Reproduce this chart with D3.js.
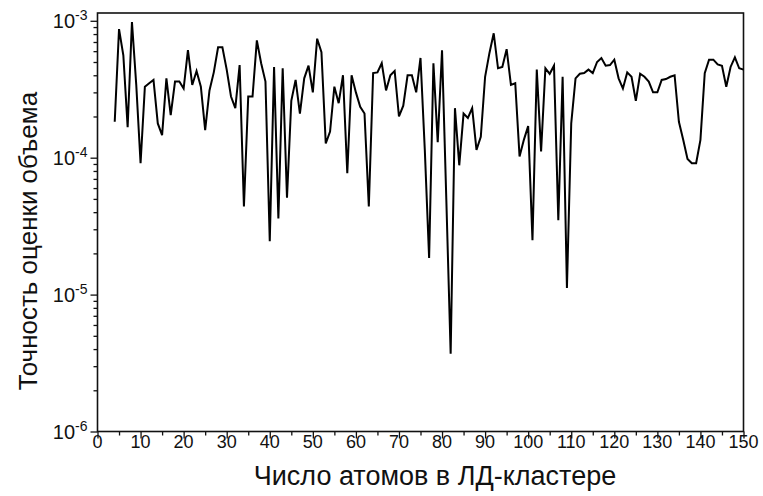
<!DOCTYPE html>
<html>
<head>
<meta charset="utf-8">
<script src="https://cdn.jsdelivr.net/npm/d3@7"></script>
<style>
  body { margin: 0; background: #fff; }
  text { font-family: "Liberation Sans", Arial, sans-serif; fill: #111; }
</style>
</head>
<body>
<div id="chart"></div>
<script>
// cluster size (number of atoms), starts at 4
var atomCounts = d3.range(4, 151);

// accuracy of volume estimate for each cluster size
var accuracy = [
  1.83e-4, 8.7e-4, 5.6e-4, 1.67e-4, 9.8e-4, 3.4e-4, 9.1e-5, 3.3e-4, 3.5e-4, 3.7e-4,   // 4-13
  1.78e-4, 1.46e-4, 3.8e-4, 2.05e-4, 3.6e-4, 3.6e-4, 3.2e-4, 6.1e-4, 3.4e-4, 4.3e-4,  // 14-23
  3.3e-4, 1.59e-4, 3.1e-4, 4.2e-4, 6.4e-4, 6.4e-4, 4.4e-4, 2.8e-4, 2.3e-4, 4.75e-4,   // 24-33
  4.4e-5, 2.8e-4, 2.8e-4, 7.2e-4, 4.9e-4, 3.6e-4, 2.45e-5, 4.6e-4, 3.6e-5, 4.5e-4,    // 34-43
  5.1e-5, 2.6e-4, 3.7e-4, 2.1e-4, 3.8e-4, 4.7e-4, 3.0e-4, 7.4e-4, 5.9e-4, 1.27e-4,    // 44-53
  1.55e-4, 3.3e-4, 2.5e-4, 4.0e-4, 7.7e-5, 4.0e-4, 3.0e-4, 2.35e-4, 2.1e-4, 4.4e-5,   // 54-63
  4.15e-4, 4.2e-4, 4.9e-4, 3.1e-4, 4.0e-4, 4.3e-4, 2.0e-4, 2.4e-4, 4.0e-4, 4.0e-4,    // 64-73
  3.0e-4, 5.35e-4, 1.14e-4, 1.85e-5, 4.9e-4, 1.3e-4, 6.1e-4, 4.9e-5, 3.7e-6, 2.3e-4,  // 74-83
  8.8e-5, 2.1e-4, 1.95e-4, 2.3e-4, 1.14e-4, 1.42e-4, 3.9e-4, 5.8e-4, 8.1e-4, 4.5e-4,  // 84-93
  4.6e-4, 6.2e-4, 3.4e-4, 3.5e-4, 1.02e-4, 1.35e-4, 1.7e-4, 2.5e-5, 4.4e-4, 1.11e-4,  // 94-103
  4.5e-4, 4.1e-4, 4.7e-4, 3.5e-5, 3.9e-4, 1.12e-5, 1.78e-4, 3.8e-4, 4.1e-4, 4.15e-4,  // 104-113
  4.4e-4, 4.15e-4, 5.0e-4, 5.35e-4, 4.7e-4, 4.75e-4, 5.2e-4, 3.8e-4, 3.2e-4, 4.2e-4,  // 114-123
  3.9e-4, 2.6e-4, 4.1e-4, 3.9e-4, 3.6e-4, 3.0e-4, 3.0e-4, 3.7e-4, 3.75e-4, 3.9e-4,    // 124-133
  4.0e-4, 1.83e-4, 1.35e-4, 9.8e-5, 9.1e-5, 9.1e-5, 1.35e-4, 4.15e-4, 5.2e-4, 5.2e-4, // 134-143
  4.8e-4, 4.7e-4, 3.3e-4, 4.6e-4, 5.4e-4, 4.5e-4, 4.4e-4                              // 144-150
];

var xTicks = d3.range(0, 151, 10);
var xMinorTicks = d3.range(5, 150, 10);
var yExponents = [-6, -5, -4, -3];

var xTitle = "Число атомов в ЛД-кластере";
var yTitle = "Точность оценки объема";

var width = 763, height = 496;
var plot = { left: 97.5, right: 743.5, top: 13, bottom: 431.5 };

var svg = d3.select("#chart").append("svg")
    .attr("width", width)
    .attr("height", height)
    .style("background", "#fff");

var x = d3.scaleLinear().domain([0, 150]).range([plot.left, plot.right]);
var y = d3.scaleLog().domain([1e-6, 1.14e-3]).range([plot.bottom, plot.top]);

// minor log ticks 2..9 per decade
var yMinor = [];
yExponents.slice(0, 3).forEach(function(e) {
    for (var k = 2; k <= 9; k++) yMinor.push(k * Math.pow(10, e));
});

var axisStyle = function(g) {
    g.select(".domain").remove();
    g.selectAll("line").attr("stroke", "#111").attr("stroke-width", 1.3);
};

// x axis ticks
svg.append("g")
    .attr("transform", "translate(0," + plot.bottom + ")")
    .call(d3.axisBottom(x).tickValues(xTicks).tickSize(7).tickFormat(""))
    .call(axisStyle);
svg.append("g")
    .attr("transform", "translate(0," + plot.bottom + ")")
    .call(d3.axisBottom(x).tickValues(xMinorTicks).tickSize(4).tickFormat(""))
    .call(axisStyle);

svg.append("g").selectAll("text")
    .data(xTicks)
    .enter().append("text")
    .attr("x", function(d) { return x(d); })
    .attr("y", plot.bottom + 16)
    .attr("text-anchor", "middle")
    .style("font-size", "18px")
    .text(function(d) { return d; });

// y axis ticks
svg.append("g")
    .attr("transform", "translate(" + plot.left + ",0)")
    .call(d3.axisLeft(y).tickValues(yExponents.map(function(e) { return Math.pow(10, e); })).tickSize(7).tickFormat(""))
    .call(axisStyle);
svg.append("g")
    .attr("transform", "translate(" + plot.left + ",0)")
    .call(d3.axisLeft(y).tickValues(yMinor).tickSize(4).tickFormat(""))
    .call(axisStyle);

var yLab = svg.append("g").selectAll("text")
    .data(yExponents)
    .enter().append("text")
    .attr("x", plot.left - 10)
    .attr("y", function(d) { return y(Math.pow(10, d)) + 7.5; })
    .attr("text-anchor", "end")
    .style("font-size", "20px");
yLab.append("tspan").text("10");
yLab.append("tspan")
    .attr("dy", -8)
    .style("font-size", "14px")
    .text(function(d) { return d; });

// frame
svg.append("rect")
    .attr("x", plot.left)
    .attr("y", plot.top)
    .attr("width", plot.right - plot.left)
    .attr("height", plot.bottom - plot.top)
    .attr("fill", "none")
    .attr("stroke", "#111")
    .attr("stroke-width", 1.6);

// data line
var line = d3.line()
    .x(function(d, i) { return x(atomCounts[i]); })
    .y(function(d) { return y(d); });

svg.append("path")
    .datum(accuracy)
    .attr("fill", "none")
    .attr("stroke", "#000")
    .attr("stroke-width", 2)
    .attr("d", line);

// axis titles
svg.append("text")
    .attr("x", 435)
    .attr("y", 485)
    .attr("text-anchor", "middle")
    .style("font-size", "27px")
    .text(xTitle);

svg.append("text")
    .attr("transform", "translate(37,241)rotate(-90)")
    .attr("text-anchor", "middle")
    .style("font-size", "26px")
    .text(yTitle);
</script>
</body>
</html>
